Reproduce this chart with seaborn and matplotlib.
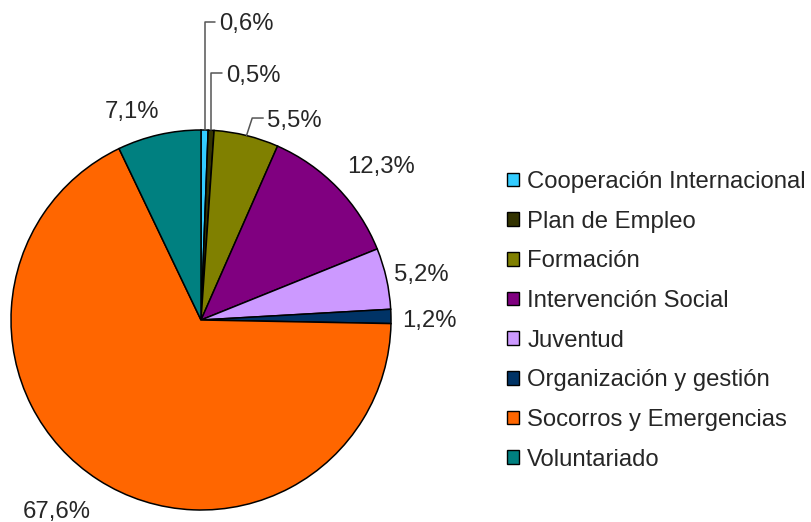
import numpy as np
import matplotlib
matplotlib.use('Agg')
import matplotlib.pyplot as plt
import matplotlib.patches as mpatches
import seaborn as sns

categories = ['Cooperación Internacional', 'Plan de Empleo', 'Formación', 'Intervención Social',
              'Juventud', 'Organización y gestión', 'Socorros y Emergencias', 'Voluntariado']
shares = [0.6, 0.5, 5.5, 12.3, 5.2, 1.2, 67.6, 7.1]
labels_pct = ['0,6%', '0,5%', '5,5%', '12,3%', '5,2%', '1,2%', '67,6%', '7,1%']
colors = ['#33CCFF', '#333300', '#808000', '#800080', '#CC99FF', '#003366', '#FF6600', '#008080']

sns.set_style('white')
plt.rcParams['font.family'] = ['Liberation Sans', 'DejaVu Sans']
fs = 17.2

W, H = 811, 522
fig = plt.figure(figsize=(W / 100, H / 100), dpi=100)
ax = fig.add_axes([0, 0, 1, 1])

# pie centre and radius in pixels
cx, cy, R = 201, 320, 190
wedges, _ = ax.pie(shares, colors=colors, startangle=90, counterclock=False,
                   wedgeprops=dict(edgecolor='black', linewidth=1.1))
ax.set_xlim(-cx / R, (W - cx) / R)
ax.set_ylim(-(H - cy) / R, cy / R)
ax.axis('off')

# plain labels: (distance factor, angle tweak in degrees)
plain = {3: (1.253, -3.2), 4: (1.185, -0.3), 5: (1.2, -0.6), 6: (1.254, -4.4), 7: (1.168, 5.3)}
for i, (dist, tweak) in plain.items():
    w = wedges[i]
    ang = np.deg2rad((w.theta1 + w.theta2) / 2 + tweak)
    ax.text(dist * np.cos(ang), dist * np.sin(ang), labels_pct[i], fontsize=fs,
            ha='center', va='center_baseline')

# small slices with leader lines: (height of elbow, x offset of elbow, end of horizontal)
leaders = {0: (1.57, 0.0, 0.055), 1: (1.30, 0.0, 0.058), 2: (1.063, 0.03, 0.058)}
for i, (hy, dx, hl) in leaders.items():
    w = wedges[i]
    ang = np.deg2rad((w.theta1 + w.theta2) / 2)
    x0, y0 = np.cos(ang), np.sin(ang)
    xe = x0 + dx
    ax.plot([x0, xe, xe + hl], [y0, hy, hy], color='#555555', lw=1.1, clip_on=False)
    ax.text(xe + hl + 0.02, hy, labels_pct[i], fontsize=fs, ha='left', va='center_baseline')

handles = [mpatches.Patch(facecolor=c, edgecolor='black', linewidth=1.0) for c in colors]
fig.legend(handles, categories, loc='upper left', bbox_to_anchor=(507 / W, 1 - 171 / H),
           frameon=False, fontsize=fs, handlelength=0.5, handleheight=0.5,
           handletextpad=0.35, labelspacing=0.74, borderpad=0, borderaxespad=0)

fig.savefig('out.png', dpi=100)
